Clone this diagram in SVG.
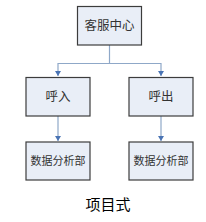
<svg xmlns="http://www.w3.org/2000/svg" width="206" height="222" viewBox="0 0 206 222">
<defs>
<style>
.box{fill:#e9eef7;stroke:#3c3c3c;stroke-width:1.2}
.t{font-family:"Liberation Sans","Noto Sans CJK SC",sans-serif;fill:#333;text-anchor:middle}
.c{stroke:#8fa8c8;stroke-width:1.2;fill:none}
</style>
<marker id="ah" markerWidth="6" markerHeight="6" refX="5" refY="3" orient="auto" markerUnits="userSpaceOnUse">
<path d="M0,0 L5,3 L0,6 Z" fill="#4a74b4"/>
</marker>
</defs>
<rect width="206" height="222" fill="#fff"/>
<g id="connectors">
<path class="c" d="M109.5,45 V63.5 H58 V76" marker-end="url(#ah)"/>
<path class="c" d="M109.5,63.5 H161 V76" marker-end="url(#ah)"/>
<path class="c" d="M58,116 V141" marker-end="url(#ah)"/>
<path class="c" d="M161,116 V141" marker-end="url(#ah)"/>
</g>
<g id="center"><rect class="box" x="77.5" y="6.5" width="64" height="38.5"/><text class="t" x="109.5" y="30" font-size="12.5">客服中心</text></g>
<g id="in"><rect class="box" x="26" y="77.5" width="64" height="38.5"/><text class="t" x="58" y="101" font-size="12.5">呼入</text></g>
<g id="out"><rect class="box" x="129" y="77.5" width="64" height="38.5"/><text class="t" x="161" y="101" font-size="12.5">呼出</text></g>
<g id="data1"><rect class="box" x="26" y="142" width="64" height="38"/><text class="t" x="58" y="165" font-size="11">数据分析部</text></g>
<g id="data2"><rect class="box" x="129" y="142" width="64" height="38"/><text class="t" x="161" y="165" font-size="11">数据分析部</text></g>
<text x="108" y="210" font-size="15" style="font-family:'Liberation Sans','Noto Sans CJK SC',sans-serif;fill:#000;text-anchor:middle">项目式</text>
</svg>
